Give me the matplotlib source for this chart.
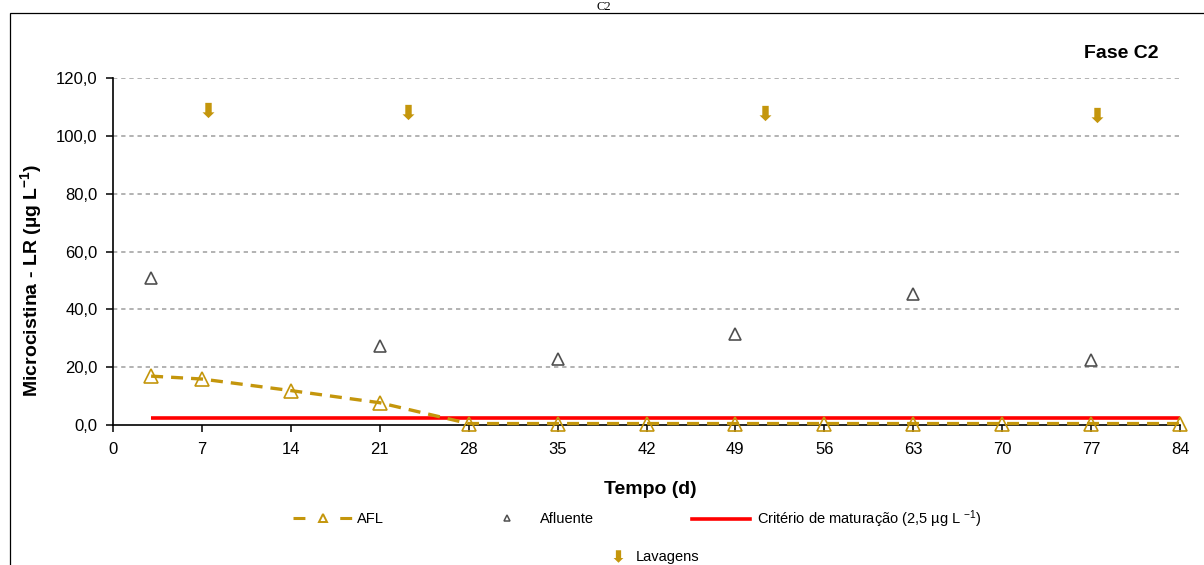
import matplotlib
matplotlib.use("Agg")
import matplotlib.pyplot as plt
from matplotlib.lines import Line2D
from matplotlib.path import Path
from matplotlib.patches import Rectangle

# --- data -------------------------------------------------------------
days_afl = [3, 7, 14, 21, 28, 35, 42, 49, 56, 63, 70, 77, 84]
afl = [16.9, 15.9, 11.9, 7.7, 0.5, 0.5, 0.5, 0.5, 0.5, 0.5, 0.5, 0.5, 0.5]

days_afluente = [3, 21, 35, 49, 63, 77]
afluente = [51.0, 27.2, 22.9, 31.3, 45.4, 22.4]

days_lavagem = [7.5, 23.25, 51.3, 77.5]
lavagem_y = [108.9, 108.3, 107.8, 107.2]

criterio_days = [3, 84]
criterio = [2.5, 2.5]

x_ticks = [0, 7, 14, 21, 28, 35, 42, 49, 56, 63, 70, 77, 84]
y_ticks = [0, 20, 40, 60, 80, 100, 120]
y_ticklabels = ["0,0", "20,0", "40,0", "60,0", "80,0", "100,0", "120,0"]

# --- style ------------------------------------------------------------
plt.rcParams["font.family"] = ["Liberation Sans", "DejaVu Sans"]
plt.rcParams["mathtext.fontset"] = "custom"
plt.rcParams["mathtext.rm"] = "Liberation Sans"
plt.rcParams["mathtext.it"] = "Liberation Sans:italic"
plt.rcParams["mathtext.bf"] = "Liberation Sans:bold"

GOLD = "#C4960C"
GRAY = "#505050"
W, H = 1204, 565

# downward block arrow used for the washing events
arrow_path = Path([(-0.42, 1.0), (0.42, 1.0), (0.42, -0.24), (0.78, -0.24),
                   (0.0, -1.0), (-0.78, -0.24), (-0.42, -0.24), (-0.42, 1.0)],
                  closed=True)

fig = plt.figure(figsize=(W / 100, H / 100), dpi=100)
ax = fig.add_axes([113 / W, 1 - 425 / H, (1180 - 113) / W, (425 - 78) / H])

# outer frame and title
fig.patches.append(Rectangle((10 / W, -0.05), 1.2, 1 - 13 / H + 0.05,
                             transform=fig.transFigure, fill=False,
                             edgecolor="black", linewidth=0.9))
fig.text(604 / W, 1 - 0.5 / H, "C2", family="Liberation Serif", fontsize=9,
         ha="center", va="top")

ax.set_xlim(0, 84)
ax.set_ylim(0, 120)
ax.set_xticks(x_ticks)
ax.set_yticks(y_ticks)
ax.set_yticklabels(y_ticklabels)
ax.tick_params(axis="both", labelsize=12, width=1.1, length=5, color="black")
ax.tick_params(axis="y", pad=6)
ax.tick_params(axis="x", pad=7)
for s in ("top", "right"):
    ax.spines[s].set_visible(False)
for s in ("left", "bottom"):
    ax.spines[s].set_linewidth(1.2)

for yv in y_ticks[1:]:
    ax.axhline(yv, color="#A6A6A6", linewidth=1.2, linestyle=(0, (2.6, 2.3)),
               zorder=0.5)

# series
ax.plot(criterio_days, criterio, color="#FF0000", linewidth=2.6, zorder=2,
        solid_capstyle="butt")
ax.plot(days_afl, afl, color=GOLD, linewidth=2.4, linestyle=(0, (3.6, 2.4)),
        dash_capstyle="butt", zorder=3, clip_on=False)
ax.plot(days_afl, afl, linestyle="none", marker="^", markersize=10.5,
        markerfacecolor="none", markeredgecolor=GOLD, markeredgewidth=1.2,
        zorder=4, clip_on=False)
ax.plot(days_afluente, afluente, linestyle="none", marker="^", markersize=8,
        markerfacecolor="none", markeredgecolor=GRAY, markeredgewidth=1.2,
        zorder=4)
ax.plot(days_lavagem, lavagem_y, linestyle="none", marker=arrow_path,
        markersize=11, color=GOLD, markeredgewidth=0, zorder=4)

ax.set_xlabel("Tempo (d)", fontsize=14, fontweight="bold")
ax.xaxis.label.set_va("center")
ax.xaxis.set_label_coords((650 - 113) / 1067, -(489 - 425) / 347)
ax.set_ylabel(r"Microcistina - LR (µg L$^{\mathbf{-1}}$)", fontsize=14,
              fontweight="bold")
ax.yaxis.label.set_va("center")
ax.yaxis.set_label_coords((31 - 113) / 1067, (425 - 280) / 347)

fig.text(1159 / W, 1 - 53 / H, "Fase C2", fontsize=14, fontweight="bold",
         ha="right", va="center")

# legend entries, each placed along the bottom of the frame
fs = 10.5
fpx = fs * 100 / 72


def add_entry(handle, label, x_start, y_center, hl_px, text_x):
    fig.legend(handles=[handle], labels=[label], loc="center left",
               bbox_to_anchor=(x_start / W, 1 - y_center / H),
               frameon=False, borderpad=0, borderaxespad=0,
               handlelength=hl_px / fpx,
               handletextpad=(text_x - x_start - hl_px) / fpx,
               fontsize=fs, numpoints=1)


h_afl = Line2D([], [], color=GOLD, linewidth=2.2, linestyle=(0, (3.9, 11.4)),
               dash_capstyle="butt", marker="^", markersize=5.5,
               markerfacecolor="none", markeredgecolor=GOLD,
               markeredgewidth=1.4)
h_afluente = Line2D([], [], linestyle="none", marker="^", markersize=5,
                    markerfacecolor="none", markeredgecolor=GRAY,
                    markeredgewidth=1.1)
h_crit = Line2D([], [], color="#FF0000", linewidth=2.6)
h_lav = Line2D([], [], linestyle="none", marker=arrow_path, markersize=9,
               color=GOLD, markeredgewidth=0)

add_entry(h_afl, "AFL", 293, 519, 59, 357)
add_entry(h_afluente, "Afluente", 500, 519, 14, 540)
add_entry(h_crit, r"Critério de maturação (2,5 µg L $^{-1}$)", 692, 519, 58, 757)
add_entry(h_lav, "Lavagens", 611, 557, 14, 636)

fig.savefig("out.png", dpi=100)
